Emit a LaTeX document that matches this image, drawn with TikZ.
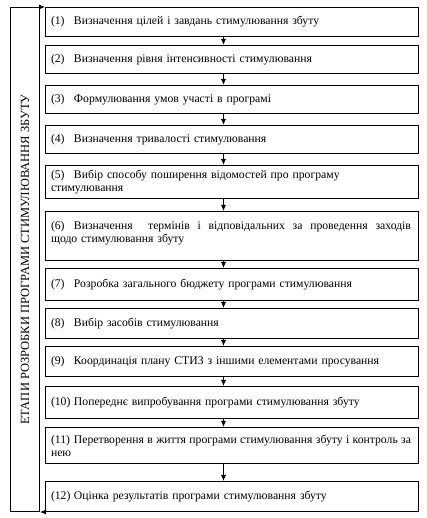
\documentclass[tikz,border=0pt]{standalone}
\usepackage{fontspec}
\setmainfont{Liberation Serif}
\usetikzlibrary{arrows.meta}
\newcommand{\stnum}[1]{\makebox[23pt][l]{(#1)}}
\newcommand{\fullline}[1]{\makebox[360pt][s]{\spaceskip=0.27em plus 3em #1}}

\begin{document}
\begin{tikzpicture}[x=1pt,y=1pt]
            \tikzstyle{every node}+=[inner sep=0pt, font=\fontsize{11.7}{13}\selectfont]
            \tikzstyle{stage}=[draw=black, line width=1pt, anchor=north west, minimum width=373pt, text width=362pt, inner xsep=5.5pt, align=left]
            \tikzstyle{arr}=[black, line width=0.8pt, -{Latex[length=6pt,width=5pt]}]
            \useasboundingbox (0,0) rectangle (426,518);
            \node [draw=black, line width=1pt, anchor=north west, minimum width=29pt, minimum height=504pt, font=\fontsize{12.5}{14}\selectfont] (etap) at (10,511) {\rotatebox{90}{ЕТАПИ РОЗРОБКИ ПРОГРАМИ СТИМУЛЮВАННЯ ЗБУТУ}\hspace{8pt}};
            \node [stage, minimum height=29pt] (s1) at (45,511) {\stnum{1}Визначення цілей і завдань стимулювання збуту};
            \node [stage, minimum height=28pt] (s2) at (45,473) {\stnum{2}Визначення рівня інтенсивності стимулювання};
            \node [stage, minimum height=28pt] (s3) at (45,433) {\stnum{3}Формулювання умов участі в програмі};
            \node [stage, minimum height=28pt] (s4) at (45,393) {\stnum{4}Визначення тривалості стимулювання};
            \node [stage, minimum height=33pt] (s5) at (45,353) {\stnum{5}Вибір способу поширення відомостей про програму\\стимулювання};
            \node [stage, minimum height=49pt, text depth=22pt] (s6) at (45,307) {\fullline{\stnum{6}Визначення \ термінів і відповідальних за проведення заходів}\\щодо стимулювання збуту};
            \node [stage, minimum height=32pt] (s7) at (45,250) {\stnum{7}Розробка загального бюджету програми стимулювання};
            \node [stage, minimum height=30pt] (s8) at (45,210) {\stnum{8}Вибір засобів стимулювання};
            \node [stage, minimum height=30pt] (s9) at (45,172) {\stnum{9}Координація плану СТИЗ з іншими елементами просування};
            \node [stage, minimum height=32pt] (s10) at (45,132) {\stnum{10}Попереднє випробування програми стимулювання збуту};
            \node [stage, minimum height=36pt] (s11) at (45,91) {\fullline{\stnum{11}Перетворення в життя програми стимулювання збуту і контроль за}\\нею};
            \node [stage, minimum height=30pt] (s12) at (45,37) {\stnum{12}Оцінка результатів програми стимулювання збуту};
            \foreach \i/\j in {1/2,2/3,3/4,4/5,5/6,6/7,7/8,8/9,9/10,10/11,11/12}
                \draw [arr] ([xshift=-8.5pt]s\i.south) -- ([xshift=-8.5pt]s\j.north);
            \draw [arr] (etap.north east) -- (s1.north west);
            \draw [arr] (s12.south west) -- (etap.south east);
        \end{tikzpicture}
\end{document}
